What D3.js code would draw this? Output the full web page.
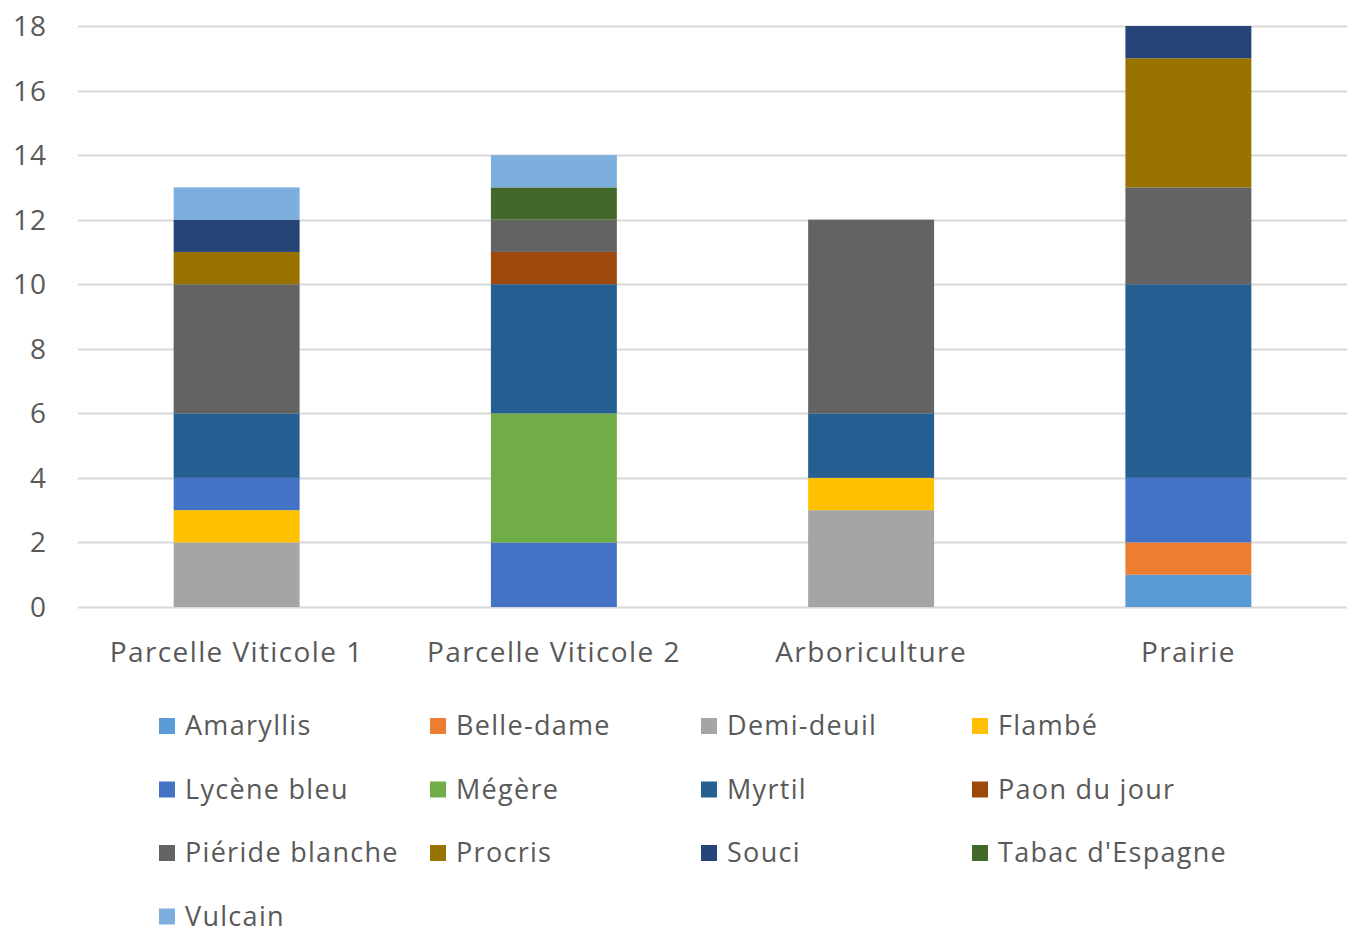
<!DOCTYPE html>
<html>
<head>
<meta charset="utf-8">
<script src="https://cdn.jsdelivr.net/npm/d3@7"></script>
<style>
  body { margin: 0; background: #fff; }
  text { font-family: "Open Sans", sans-serif; fill: #595959; }
</style>
</head>
<body>
<div id="main"></div>
<script>
// categories and series, bottom of stack first
var categories = ["Parcelle Viticole 1", "Parcelle Viticole 2", "Arboriculture", "Prairie"]
var species = ["Amaryllis", "Belle-dame", "Demi-deuil", "Flambé", "Lycène bleu", "Mégère",
               "Myrtil", "Paon du jour", "Piéride blanche", "Procris", "Souci", "Tabac d'Espagne", "Vulcain"]

// counts per species, one value per category
var amaryllis      = [0, 0, 0, 1]
var belleDame      = [0, 0, 0, 1]
var demiDeuil      = [2, 0, 3, 0]
var flambe         = [1, 0, 1, 0]
var lyceneBleu     = [1, 2, 0, 2]
var megere         = [0, 4, 0, 0]
var myrtil         = [2, 4, 2, 6]
var paonDuJour     = [0, 1, 0, 0]
var pierideBlanche = [4, 1, 6, 3]
var procris        = [1, 0, 0, 4]
var souci          = [1, 0, 0, 1]
var tabacEspagne   = [0, 1, 0, 0]
var vulcain        = [1, 1, 0, 0]

var yTicks = [0, 2, 4, 6, 8, 10, 12, 14, 16, 18]

var colors = ["#5B9BD5", "#ED7D31", "#A5A5A5", "#FFC000", "#4472C4", "#70AD47",
              "#255E91", "#9E480E", "#636363", "#997300", "#264478", "#43682B", "#7CAFDD"]

var seriesValues = [amaryllis, belleDame, demiDeuil, flambe, lyceneBleu, megere,
                    myrtil, paonDuJour, pierideBlanche, procris, souci, tabacEspagne, vulcain]

// build rows for d3.stack
var rows = categories.map(function(c, i) {
  var r = { cat: c }
  species.forEach(function(s, j) { r[s] = seriesValues[j][i] })
  return r
})

var dimensions = {
  width: 1358,
  height: 935,
  plot: { left: 78, right: 1347, top: 26, bottom: 607 }
}

var svg = d3.select("#main")
  .append("svg")
    .attr("width", dimensions.width)
    .attr("height", dimensions.height)

var x = d3.scaleBand()
  .domain(categories)
  .range([dimensions.plot.left, dimensions.plot.right])

var y = d3.scaleLinear()
  .domain([0, 18])
  .range([dimensions.plot.bottom, dimensions.plot.top])

var color = d3.scaleOrdinal().domain(species).range(colors)

// gridlines
svg.append("g")
  .selectAll("line")
  .data(yTicks)
  .enter()
  .append("line")
    .attr("x1", dimensions.plot.left)
    .attr("x2", dimensions.plot.right)
    .attr("y1", function(d) { return Math.round(y(d)) + 0.5 })
    .attr("y2", function(d) { return Math.round(y(d)) + 0.5 })
    .style("stroke", "#d9d9d9")
    .style("stroke-width", 2)

// y labels
svg.append("g")
  .selectAll("text")
  .data(yTicks)
  .enter()
  .append("text")
    .attr("x", 47)
    .attr("y", function(d) { return y(d) + 10 })
    .attr("text-anchor", "end")
    .style("font-size", "28px")
    .style("letter-spacing", "1px")
    .text(function(d) { return d })

// stacked bars
var stacked = d3.stack().keys(species)(rows)
var barW = x.bandwidth() * 0.397

svg.append("g")
  .selectAll("g")
  .data(stacked)
  .enter()
  .append("g")
    .style("fill", function(d) { return color(d.key) })
  .selectAll("rect")
  .data(function(d) { return d })
  .enter()
  .append("rect")
    .attr("x", function(d) { return x(d.data.cat) + (x.bandwidth() - barW) / 2 })
    .attr("width", barW)
    .attr("y", function(d) { return y(d[1]) })
    .attr("height", function(d) { return y(d[0]) - y(d[1]) })

// category labels
svg.append("g")
  .selectAll("text")
  .data(categories)
  .enter()
  .append("text")
    .attr("x", function(d) { return x(d) + x.bandwidth() / 2 })
    .attr("y", 662)
    .attr("text-anchor", "middle")
    .style("font-size", "28px")
    .style("letter-spacing", "1.4px")
    .text(function(d) { return d })

// legend, 4 columns
var legend = svg.append("g")
  .selectAll("g")
  .data(species)
  .enter()
  .append("g")
    .attr("transform", function(d, i) {
      return "translate(" + (159 + (i % 4) * 271) + "," + (726 + Math.floor(i / 4) * 63.5) + ")"
    })

legend.append("rect")
  .attr("x", 0)
  .attr("y", -8)
  .attr("width", 16)
  .attr("height", 16)
  .style("fill", function(d) { return color(d) })

legend.append("text")
  .attr("x", 26)
  .attr("y", 9)
  .style("font-size", "27px")
  .style("letter-spacing", "1.3px")
  .text(function(d) { return d })
</script>
</body>
</html>
